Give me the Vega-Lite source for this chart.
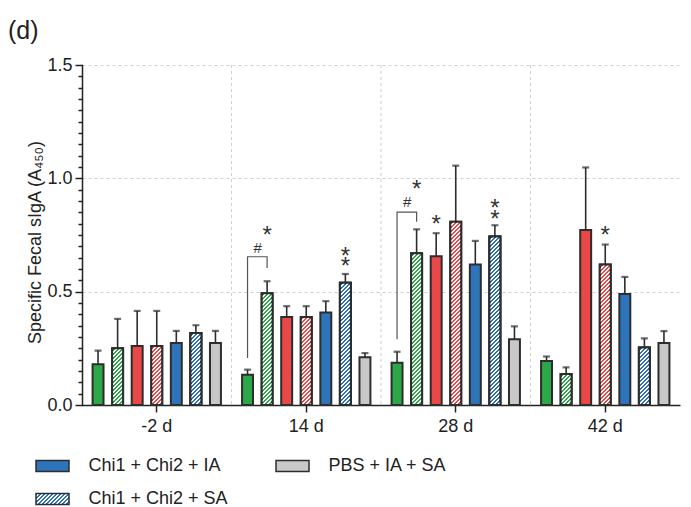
{
  "$schema": "https://vega.github.io/schema/vega-lite/v6.json",
  "width": 598,
  "height": 340,
  "autosize": "none",
  "padding": {"left": 82, "top": 65, "right": 11, "bottom": 102},
  "background": "white",
  "title": {"text": "(d)", "anchor": "start", "frame": "group", "dx": -74, "offset": 12, "fontSize": 25, "fontWeight": "normal", "color": "#222222", "font": "Liberation Sans"},
  "params": [
    {"name": "hatchStops", "value": [
      {"offset":0,"color":"#fff"},{"offset":0.01,"color":"#fff"},{"offset":0.01,"color":"#fff0"},{"offset":0.02,"color":"#fff0"},
      {"offset":0.02,"color":"#fff"},{"offset":0.03,"color":"#fff"},{"offset":0.03,"color":"#fff0"},{"offset":0.04,"color":"#fff0"},
      {"offset":0.04,"color":"#fff"},{"offset":0.05,"color":"#fff"},{"offset":0.05,"color":"#fff0"},{"offset":0.06,"color":"#fff0"},
      {"offset":0.06,"color":"#fff"},{"offset":0.07,"color":"#fff"},{"offset":0.07,"color":"#fff0"},{"offset":0.08,"color":"#fff0"},
      {"offset":0.08,"color":"#fff"},{"offset":0.09,"color":"#fff"},{"offset":0.09,"color":"#fff0"},{"offset":0.1,"color":"#fff0"},
      {"offset":0.1,"color":"#fff"},{"offset":0.11,"color":"#fff"},{"offset":0.11,"color":"#fff0"},{"offset":0.12,"color":"#fff0"},
      {"offset":0.12,"color":"#fff"},{"offset":0.13,"color":"#fff"},{"offset":0.13,"color":"#fff0"},{"offset":0.14,"color":"#fff0"},
      {"offset":0.14,"color":"#fff"},{"offset":0.15,"color":"#fff"},{"offset":0.15,"color":"#fff0"},{"offset":0.16,"color":"#fff0"},
      {"offset":0.16,"color":"#fff"},{"offset":0.17,"color":"#fff"},{"offset":0.17,"color":"#fff0"},{"offset":0.18,"color":"#fff0"},
      {"offset":0.18,"color":"#fff"},{"offset":0.19,"color":"#fff"},{"offset":0.19,"color":"#fff0"},{"offset":0.2,"color":"#fff0"},
      {"offset":0.2,"color":"#fff"},{"offset":0.21,"color":"#fff"},{"offset":0.21,"color":"#fff0"},{"offset":0.22,"color":"#fff0"},
      {"offset":0.22,"color":"#fff"},{"offset":0.23,"color":"#fff"},{"offset":0.23,"color":"#fff0"},{"offset":0.24,"color":"#fff0"},
      {"offset":0.24,"color":"#fff"},{"offset":0.25,"color":"#fff"},{"offset":0.25,"color":"#fff0"},{"offset":0.26,"color":"#fff0"},
      {"offset":0.26,"color":"#fff"},{"offset":0.27,"color":"#fff"},{"offset":0.27,"color":"#fff0"},{"offset":0.28,"color":"#fff0"},
      {"offset":0.28,"color":"#fff"},{"offset":0.29,"color":"#fff"},{"offset":0.29,"color":"#fff0"},{"offset":0.3,"color":"#fff0"},
      {"offset":0.3,"color":"#fff"},{"offset":0.31,"color":"#fff"},{"offset":0.31,"color":"#fff0"},{"offset":0.32,"color":"#fff0"},
      {"offset":0.32,"color":"#fff"},{"offset":0.33,"color":"#fff"},{"offset":0.33,"color":"#fff0"},{"offset":0.34,"color":"#fff0"},
      {"offset":0.34,"color":"#fff"},{"offset":0.35,"color":"#fff"},{"offset":0.35,"color":"#fff0"},{"offset":0.36,"color":"#fff0"},
      {"offset":0.36,"color":"#fff"},{"offset":0.37,"color":"#fff"},{"offset":0.37,"color":"#fff0"},{"offset":0.38,"color":"#fff0"},
      {"offset":0.38,"color":"#fff"},{"offset":0.39,"color":"#fff"},{"offset":0.39,"color":"#fff0"},{"offset":0.4,"color":"#fff0"},
      {"offset":0.4,"color":"#fff"},{"offset":0.41,"color":"#fff"},{"offset":0.41,"color":"#fff0"},{"offset":0.42,"color":"#fff0"},
      {"offset":0.42,"color":"#fff"},{"offset":0.43,"color":"#fff"},{"offset":0.43,"color":"#fff0"},{"offset":0.44,"color":"#fff0"},
      {"offset":0.44,"color":"#fff"},{"offset":0.45,"color":"#fff"},{"offset":0.45,"color":"#fff0"},{"offset":0.46,"color":"#fff0"},
      {"offset":0.46,"color":"#fff"},{"offset":0.47,"color":"#fff"},{"offset":0.47,"color":"#fff0"},{"offset":0.48,"color":"#fff0"},
      {"offset":0.48,"color":"#fff"},{"offset":0.49,"color":"#fff"},{"offset":0.49,"color":"#fff0"},{"offset":0.5,"color":"#fff0"},
      {"offset":0.5,"color":"#fff"},{"offset":0.51,"color":"#fff"},{"offset":0.51,"color":"#fff0"},{"offset":0.52,"color":"#fff0"},
      {"offset":0.52,"color":"#fff"},{"offset":0.53,"color":"#fff"},{"offset":0.53,"color":"#fff0"},{"offset":0.54,"color":"#fff0"},
      {"offset":0.54,"color":"#fff"},{"offset":0.55,"color":"#fff"},{"offset":0.55,"color":"#fff0"},{"offset":0.56,"color":"#fff0"},
      {"offset":0.56,"color":"#fff"},{"offset":0.57,"color":"#fff"},{"offset":0.57,"color":"#fff0"},{"offset":0.58,"color":"#fff0"},
      {"offset":0.58,"color":"#fff"},{"offset":0.59,"color":"#fff"},{"offset":0.59,"color":"#fff0"},{"offset":0.6,"color":"#fff0"},
      {"offset":0.6,"color":"#fff"},{"offset":0.61,"color":"#fff"},{"offset":0.61,"color":"#fff0"},{"offset":0.62,"color":"#fff0"},
      {"offset":0.62,"color":"#fff"},{"offset":0.63,"color":"#fff"},{"offset":0.63,"color":"#fff0"},{"offset":0.64,"color":"#fff0"},
      {"offset":0.64,"color":"#fff"},{"offset":0.65,"color":"#fff"},{"offset":0.65,"color":"#fff0"},{"offset":0.66,"color":"#fff0"},
      {"offset":0.66,"color":"#fff"},{"offset":0.67,"color":"#fff"},{"offset":0.67,"color":"#fff0"},{"offset":0.68,"color":"#fff0"},
      {"offset":0.68,"color":"#fff"},{"offset":0.69,"color":"#fff"},{"offset":0.69,"color":"#fff0"},{"offset":0.7,"color":"#fff0"},
      {"offset":0.7,"color":"#fff"},{"offset":0.71,"color":"#fff"},{"offset":0.71,"color":"#fff0"},{"offset":0.72,"color":"#fff0"},
      {"offset":0.72,"color":"#fff"},{"offset":0.73,"color":"#fff"},{"offset":0.73,"color":"#fff0"},{"offset":0.74,"color":"#fff0"},
      {"offset":0.74,"color":"#fff"},{"offset":0.75,"color":"#fff"},{"offset":0.75,"color":"#fff0"},{"offset":0.76,"color":"#fff0"},
      {"offset":0.76,"color":"#fff"},{"offset":0.77,"color":"#fff"},{"offset":0.77,"color":"#fff0"},{"offset":0.78,"color":"#fff0"},
      {"offset":0.78,"color":"#fff"},{"offset":0.79,"color":"#fff"},{"offset":0.79,"color":"#fff0"},{"offset":0.8,"color":"#fff0"},
      {"offset":0.8,"color":"#fff"},{"offset":0.81,"color":"#fff"},{"offset":0.81,"color":"#fff0"},{"offset":0.82,"color":"#fff0"},
      {"offset":0.82,"color":"#fff"},{"offset":0.83,"color":"#fff"},{"offset":0.83,"color":"#fff0"},{"offset":0.84,"color":"#fff0"},
      {"offset":0.84,"color":"#fff"},{"offset":0.85,"color":"#fff"},{"offset":0.85,"color":"#fff0"},{"offset":0.86,"color":"#fff0"},
      {"offset":0.86,"color":"#fff"},{"offset":0.87,"color":"#fff"},{"offset":0.87,"color":"#fff0"},{"offset":0.88,"color":"#fff0"},
      {"offset":0.88,"color":"#fff"},{"offset":0.89,"color":"#fff"},{"offset":0.89,"color":"#fff0"},{"offset":0.9,"color":"#fff0"},
      {"offset":0.9,"color":"#fff"},{"offset":0.91,"color":"#fff"},{"offset":0.91,"color":"#fff0"},{"offset":0.92,"color":"#fff0"},
      {"offset":0.92,"color":"#fff"},{"offset":0.93,"color":"#fff"},{"offset":0.93,"color":"#fff0"},{"offset":0.94,"color":"#fff0"},
      {"offset":0.94,"color":"#fff"},{"offset":0.95,"color":"#fff"},{"offset":0.95,"color":"#fff0"},{"offset":0.96,"color":"#fff0"},
      {"offset":0.96,"color":"#fff"},{"offset":0.97,"color":"#fff"},{"offset":0.97,"color":"#fff0"},{"offset":0.98,"color":"#fff0"},
      {"offset":0.98,"color":"#fff"},{"offset":0.99,"color":"#fff"},{"offset":0.99,"color":"#fff0"},{"offset":1,"color":"#fff0"}
    ]},
    {"name": "legendStops", "value": [
      {"offset":0,"color":"#2e74ba"},{"offset":0.0455,"color":"#2e74ba"},{"offset":0.0455,"color":"#fff"},{"offset":0.0909,"color":"#fff"},
      {"offset":0.0909,"color":"#2e74ba"},{"offset":0.1364,"color":"#2e74ba"},{"offset":0.1364,"color":"#fff"},{"offset":0.1818,"color":"#fff"},
      {"offset":0.1818,"color":"#2e74ba"},{"offset":0.2273,"color":"#2e74ba"},{"offset":0.2273,"color":"#fff"},{"offset":0.2727,"color":"#fff"},
      {"offset":0.2727,"color":"#2e74ba"},{"offset":0.3182,"color":"#2e74ba"},{"offset":0.3182,"color":"#fff"},{"offset":0.3636,"color":"#fff"},
      {"offset":0.3636,"color":"#2e74ba"},{"offset":0.4091,"color":"#2e74ba"},{"offset":0.4091,"color":"#fff"},{"offset":0.4545,"color":"#fff"},
      {"offset":0.4545,"color":"#2e74ba"},{"offset":0.5,"color":"#2e74ba"},{"offset":0.5,"color":"#fff"},{"offset":0.5455,"color":"#fff"},
      {"offset":0.5455,"color":"#2e74ba"},{"offset":0.5909,"color":"#2e74ba"},{"offset":0.5909,"color":"#fff"},{"offset":0.6364,"color":"#fff"},
      {"offset":0.6364,"color":"#2e74ba"},{"offset":0.6818,"color":"#2e74ba"},{"offset":0.6818,"color":"#fff"},{"offset":0.7273,"color":"#fff"},
      {"offset":0.7273,"color":"#2e74ba"},{"offset":0.7727,"color":"#2e74ba"},{"offset":0.7727,"color":"#fff"},{"offset":0.8182,"color":"#fff"},
      {"offset":0.8182,"color":"#2e74ba"},{"offset":0.8636,"color":"#2e74ba"},{"offset":0.8636,"color":"#fff"},{"offset":0.9091,"color":"#fff"},
      {"offset":0.9091,"color":"#2e74ba"},{"offset":0.9545,"color":"#2e74ba"},{"offset":0.9545,"color":"#fff"},{"offset":1,"color":"#fff"}
    ]}
  ],
  "datasets": {
    "bars": [
      {"day": "-2 d", "series": "Chi1 + IA", "mean": 0.18, "upper": 0.24},
      {"day": "-2 d", "series": "Chi1 + SA", "mean": 0.25, "upper": 0.38},
      {"day": "-2 d", "series": "Chi2 + IA", "mean": 0.26, "upper": 0.415},
      {"day": "-2 d", "series": "Chi2 + SA", "mean": 0.26, "upper": 0.415},
      {"day": "-2 d", "series": "Chi1 + Chi2 + IA", "mean": 0.273, "upper": 0.327},
      {"day": "-2 d", "series": "Chi1 + Chi2 + SA", "mean": 0.318, "upper": 0.352},
      {"day": "-2 d", "series": "PBS + IA + SA", "mean": 0.273, "upper": 0.327},
      {"day": "14 d", "series": "Chi1 + IA", "mean": 0.133, "upper": 0.156},
      {"day": "14 d", "series": "Chi1 + SA", "mean": 0.493, "upper": 0.546},
      {"day": "14 d", "series": "Chi2 + IA", "mean": 0.388, "upper": 0.436},
      {"day": "14 d", "series": "Chi2 + SA", "mean": 0.388, "upper": 0.436},
      {"day": "14 d", "series": "Chi1 + Chi2 + IA", "mean": 0.408, "upper": 0.458},
      {"day": "14 d", "series": "Chi1 + Chi2 + SA", "mean": 0.539, "upper": 0.578},
      {"day": "14 d", "series": "PBS + IA + SA", "mean": 0.211, "upper": 0.229},
      {"day": "28 d", "series": "Chi1 + IA", "mean": 0.186, "upper": 0.235},
      {"day": "28 d", "series": "Chi1 + SA", "mean": 0.67, "upper": 0.775},
      {"day": "28 d", "series": "Chi2 + IA", "mean": 0.656, "upper": 0.758},
      {"day": "28 d", "series": "Chi2 + SA", "mean": 0.809, "upper": 1.056},
      {"day": "28 d", "series": "Chi1 + Chi2 + IA", "mean": 0.62, "upper": 0.724},
      {"day": "28 d", "series": "Chi1 + Chi2 + SA", "mean": 0.743, "upper": 0.793},
      {"day": "28 d", "series": "PBS + IA + SA", "mean": 0.29, "upper": 0.347},
      {"day": "42 d", "series": "Chi1 + IA", "mean": 0.194, "upper": 0.214},
      {"day": "42 d", "series": "Chi1 + SA", "mean": 0.137, "upper": 0.166},
      {"day": "42 d", "series": "Chi2 + IA", "mean": 0.772, "upper": 1.048},
      {"day": "42 d", "series": "Chi2 + SA", "mean": 0.62, "upper": 0.708},
      {"day": "42 d", "series": "Chi1 + Chi2 + IA", "mean": 0.49, "upper": 0.565},
      {"day": "42 d", "series": "Chi1 + Chi2 + SA", "mean": 0.254, "upper": 0.294},
      {"day": "42 d", "series": "PBS + IA + SA", "mean": 0.274, "upper": 0.326}
    ],
    "brackets": [
      {"pair": "a", "day": "14 d", "series": "Chi1 + IA", "v": 0.207, "ord": 1},
      {"pair": "a", "day": "14 d", "series": "Chi1 + IA", "v": 0.654, "ord": 2},
      {"pair": "a", "day": "14 d", "series": "Chi1 + SA", "v": 0.654, "ord": 3},
      {"pair": "a", "day": "14 d", "series": "Chi1 + SA", "v": 0.604, "ord": 4},
      {"pair": "b", "day": "28 d", "series": "Chi1 + IA", "v": 0.29, "ord": 1},
      {"pair": "b", "day": "28 d", "series": "Chi1 + IA", "v": 0.851, "ord": 2},
      {"pair": "b", "day": "28 d", "series": "Chi1 + SA", "v": 0.851, "ord": 3},
      {"pair": "b", "day": "28 d", "series": "Chi1 + SA", "v": 0.809, "ord": 4}
    ],
    "notes": [
      {"day": "14 d", "series": "Chi1 + SA", "mark": "*", "v": 0.772},
      {"day": "14 d", "series": "Chi1 + SA", "mark": "#", "v": 0.693},
      {"day": "14 d", "series": "Chi1 + Chi2 + SA", "mark": "*\n*", "v": 0.681},
      {"day": "28 d", "series": "Chi1 + SA", "mark": "*", "v": 0.974},
      {"day": "28 d", "series": "Chi1 + SA", "mark": "#", "v": 0.9},
      {"day": "28 d", "series": "Chi2 + IA", "mark": "*", "v": 0.822},
      {"day": "28 d", "series": "Chi1 + Chi2 + SA", "mark": "*\n*", "v": 0.89},
      {"day": "42 d", "series": "Chi2 + SA", "mark": "*", "v": 0.772}
    ]
  },
  "layer": [
    {
      "data": {"name": "bars"},
      "transform": [{"filter": "datum.series === 'PBS + IA + SA' && datum.day !== '-2 d'"}],
      "mark": {"type": "rule", "color": "#cfcfcf", "strokeDash": [3, 3], "strokeWidth": 1},
      "encoding": {
        "x": {"field": "day", "type": "nominal", "title": null, "bandPosition": 0,
              "scale": {"domain": ["-2 d", "14 d", "28 d", "42 d"], "paddingInner": 0, "paddingOuter": 0}}
      }
    },
    {
      "data": {"name": "bars"},
      "mark": {"type": "bar", "stroke": "#2d2d2d", "strokeWidth": 2},
      "encoding": {
        "x": {"field": "day", "type": "nominal", "title": null,
              "scale": {"domain": ["-2 d", "14 d", "28 d", "42 d"], "paddingInner": 0, "paddingOuter": 0}},
        "xOffset": {"field": "series", "type": "nominal",
              "scale": {"domain": ["Chi1 + IA", "Chi1 + SA", "Chi2 + IA", "Chi2 + SA", "Chi1 + Chi2 + IA", "Chi1 + Chi2 + SA", "PBS + IA + SA"], "paddingInner": 0.44, "paddingOuter": 0.54}},
        "y": {"field": "mean", "type": "quantitative", "title": "Specific Fecal sIgA (A₄₅₀)",
              "scale": {"domain": [0, 1.5], "nice": false},
              "axis": {
                "tickCount": 30,
                "labelExpr": "abs(datum.value * 2 - round(datum.value * 2)) < 0.001 ? format(datum.value, '.1f') : ''",
                "tickSize": {"condition": {"test": "abs(datum.value * 2 - round(datum.value * 2)) < 0.001", "value": 7}, "value": 4},
                "grid": true,
                "gridOpacity": {"condition": {"test": "datum.value > 0.01 && abs(datum.value * 2 - round(datum.value * 2)) < 0.001", "value": 1}, "value": 0},
                "gridColor": "#cfcfcf", "gridDash": [3, 3], "gridWidth": 1,
                "labelOverlap": false, "labelFlush": false, "labelPadding": 3, "titlePadding": 2, "titleY": 177
              }},
        "color": {"field": "series", "type": "nominal",
              "scale": {"domain": ["Chi1 + IA", "Chi1 + SA", "Chi2 + IA", "Chi2 + SA", "Chi1 + Chi2 + IA", "Chi1 + Chi2 + SA", "PBS + IA + SA"],
                        "range": ["#2ca848", "#2ca848", "#ea4848", "#ea4848", "#2e74ba",
                                  {"expr": "{gradient: 'linear', x1: 0, y1: 0, x2: 1.2, y2: 0.4, stops: legendStops}"},
                                  "#c8c8c8"]},
              "legend": {
                "values": ["Chi1 + Chi2 + IA", "PBS + IA + SA", "Chi1 + Chi2 + SA"],
                "title": null, "orient": "none", "direction": "horizontal", "legendX": -41.5, "legendY": 389,
                "columns": 2, "columnPadding": 44, "rowPadding": 12, "padding": 0,
                "symbolType": "M-1.5,-0.5H1.5V0.5H-1.5Z", "symbolSize": 484,
                "symbolStrokeColor": "#2d2d2d", "symbolStrokeWidth": 1.5, "symbolOpacity": 1,
                "labelFontSize": 18, "labelColor": "#222222", "labelFont": "Liberation Sans", "labelOffset": 24, "labelLimit": 300
              }}
      }
    },
    {
      "data": {"name": "bars"},
      "transform": [{"filter": "datum.series === 'Chi1 + Chi2 + SA'"}],
      "mark": {"type": "bar", "fill": "#2e74ba", "stroke": "#2d2d2d", "strokeWidth": 2},
      "encoding": {
        "x": {"field": "day", "type": "nominal", "title": null},
        "xOffset": {"field": "series", "type": "nominal"},
        "y": {"field": "mean", "type": "quantitative", "title": "Specific Fecal sIgA (A₄₅₀)"}
      }
    },
    {
      "data": {"name": "bars"},
      "transform": [{"filter": {"field": "series", "oneOf": ["Chi1 + SA", "Chi2 + SA", "Chi1 + Chi2 + SA"]}}],
      "mark": {"type": "bar", "stroke": "#2d2d2d", "strokeWidth": 2,
               "fill": {"expr": "{gradient: 'linear', x1: 0, y1: 0, x2: 200 * bandwidth('xOffset') / (pow(bandwidth('xOffset'), 2) + pow(scale('y', 0) - scale('y', datum.mean), 2)), y2: 200 * (scale('y', 0) - scale('y', datum.mean)) / (pow(bandwidth('xOffset'), 2) + pow(scale('y', 0) - scale('y', datum.mean), 2)), stops: hatchStops}"}},
      "encoding": {
        "x": {"field": "day", "type": "nominal", "title": null},
        "xOffset": {"field": "series", "type": "nominal"},
        "y": {"field": "mean", "type": "quantitative", "title": "Specific Fecal sIgA (A₄₅₀)"}
      }
    },
    {
      "data": {"name": "bars"},
      "mark": {"type": "rule", "color": "#2d2d2d", "strokeWidth": 1.6},
      "encoding": {
        "x": {"field": "day", "type": "nominal", "title": null},
        "xOffset": {"field": "series", "type": "nominal"},
        "y": {"field": "mean", "type": "quantitative", "title": "Specific Fecal sIgA (A₄₅₀)"},
        "y2": {"field": "upper"}
      }
    },
    {
      "data": {"name": "bars"},
      "mark": {"type": "tick", "color": "#2d2d2d", "size": 7, "thickness": 2.2},
      "encoding": {
        "x": {"field": "day", "type": "nominal", "title": null},
        "xOffset": {"field": "series", "type": "nominal"},
        "y": {"field": "upper", "type": "quantitative", "title": "Specific Fecal sIgA (A₄₅₀)"}
      }
    },
    {
      "data": {"name": "brackets"},
      "mark": {"type": "line", "color": "#555555", "strokeWidth": 1.2},
      "encoding": {
        "x": {"field": "day", "type": "nominal", "title": null},
        "xOffset": {"field": "series", "type": "nominal"},
        "y": {"field": "v", "type": "quantitative", "title": "Specific Fecal sIgA (A₄₅₀)"},
        "detail": {"field": "pair"},
        "order": {"field": "ord", "type": "quantitative"}
      }
    },
    {
      "data": {"name": "notes"},
      "transform": [{"filter": "datum.mark !== '#'"}],
      "mark": {"type": "text", "fontSize": 24, "font": "Liberation Sans", "color": "#333333", "baseline": "alphabetic", "dy": 13, "lineBreak": "\n", "lineHeight": 10.5},
      "encoding": {
        "x": {"field": "day", "type": "nominal", "title": null},
        "xOffset": {"field": "series", "type": "nominal"},
        "y": {"field": "v", "type": "quantitative", "title": "Specific Fecal sIgA (A₄₅₀)"},
        "text": {"field": "mark"}
      }
    },
    {
      "data": {"name": "notes"},
      "transform": [{"filter": "datum.mark === '#'"}],
      "mark": {"type": "text", "fontSize": 15, "font": "Liberation Sans", "color": "#333333", "baseline": "alphabetic", "dx": -9.5, "dy": 5.5},
      "encoding": {
        "x": {"field": "day", "type": "nominal", "title": null},
        "xOffset": {"field": "series", "type": "nominal"},
        "y": {"field": "v", "type": "quantitative", "title": "Specific Fecal sIgA (A₄₅₀)"},
        "text": {"field": "mark"}
      }
    }
  ],
  "config": {
    "view": {"stroke": null},
    "font": "Liberation Sans",
    "axis": {
      "labelFont": "Liberation Sans", "titleFont": "Liberation Sans",
      "labelFontSize": 18, "titleFontSize": 18, "titleFontWeight": "normal",
      "labelColor": "#222222", "titleColor": "#222222",
      "domainColor": "#222222", "domainWidth": 1.5,
      "tickColor": "#222222", "tickWidth": 1.5
    },
    "axisX": {"labelAngle": 0, "tickSize": 7, "labelPadding": 5, "grid": false},
    "axisY": {"tickCount": 30, "domainCap": "square"}
  }
}
